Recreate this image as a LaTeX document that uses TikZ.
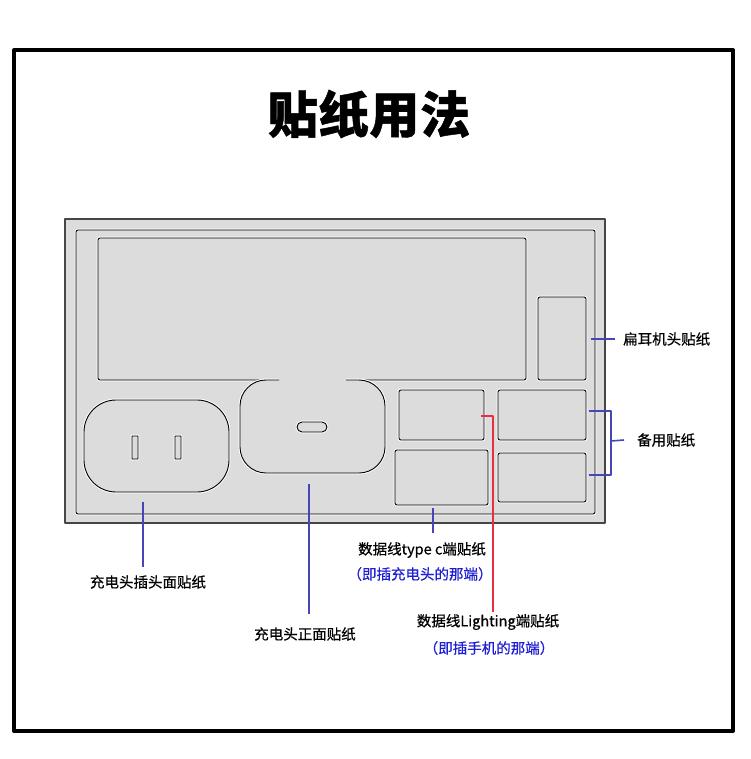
\documentclass[tikz,border=0pt]{standalone}
\usepackage{fontspec}
\setmainfont{Noto Sans CJK SC}
\newfontfamily\titlefont{Noto Sans CJK SC}[BoldFeatures={FakeBold=0.9}, LetterSpace=1.5]
\newfontfamily\tagfont{Noto Sans CJK SC}[FakeBold=0.6]
\usepackage{tikz}
\usetikzlibrary{positioning}
\colorlet{framecol}{black}
\definecolor{sheetcol}{RGB}{220,220,220}
\definecolor{edgecol}{RGB}{70,70,70}
\definecolor{leadcol}{RGB}{70,70,185}
\definecolor{notecol}{RGB}{30,30,210}
\definecolor{redcol}{RGB}{235,45,65}
\tikzset{
  sheet/.style={fill=sheetcol, draw=edgecol, line width=1.2pt},
  cut/.style={preaction={draw=white, line width=2.8pt}, fill=sheetcol,
    draw=black, line width=0.9pt, rounded corners=2pt},
  lead/.style={draw=leadcol, line width=1.6pt},
  tagtext/.style={inner sep=0pt, font=\tagfont\fontsize{14.5}{16}\selectfont},
  notetext/.style={tagtext, text=notecol},
}

\begin{document}
\begin{tikzpicture}[x=1pt, y=-1pt, line join=round]
  \useasboundingbox (0,0) rectangle (750,759);

  % Outer frame.
  \draw[line width=4pt, framecol] (14,50) rectangle (733,731);

  % Title.
  \node[font=\titlefont\fontsize{50}{54}\selectfont\bfseries] (title) at (369,114) {贴纸用法};

  % Sticker sheet.
  \draw[sheet] (65,219) rectangle (605,523);
  \draw[cut] (76,230) rectangle (595,514);

  % Large area, open at the bottom where the front sticker joins it.
  \draw[cut] (279,380) -- (98,380) -- (98,238) -- (526,238) -- (526,380) -- (346,380);

  % Charger front sticker with its type c slot.
  \draw[cut, rounded corners=26pt] (279,380) -| (240,473) -| (385,380) -- (346,380);
  \draw[cut, rounded corners=5pt] (297,422) rectangle (327,432);

  % Charger plug face with its two pins.
  \draw[cut, rounded corners=32pt] (84,400) rectangle (229,492);
  \draw[cut, rounded corners=0.5pt] (132,436) rectangle (138,459);
  \draw[cut, rounded corners=0.5pt] (175,436) rectangle (181,459);

  % Small stickers on the right.
  \draw[cut] (538,297) rectangle (586,380);
  \draw[cut] (399,390) rectangle (484,440);
  \draw[cut] (498,390) rectangle (586,440);
  \draw[cut] (395,450) rectangle (488,505);
  \draw[cut] (498,453) rectangle (586,502);

  % Labels.
  \node[tagtext] (pluglabel) at (148,582) {充电头插头面贴纸};
  \node[tagtext] (frontlabel) at (305,634) {充电头正面贴纸};
  \node[tagtext] (typeclabel) at (422,550) {数据线type c端贴纸};
  \node[notetext] (typecnote) at (420,574) {（即插充电头的那端）};
  \node[tagtext] (lightlabel) at (488,622) {数据线Lighting端贴纸};
  \node[notetext] (lightnote) at (489,648) {（即插手机的那端）};
  \node[tagtext, anchor=west] (flatlabel) at (623,339) {扁耳机头贴纸};
  \node[tagtext, anchor=west] (sparelabel) at (637,440) {备用贴纸};

  % Leader lines.
  \coordinate (plugfoot) at (143,502);
  \coordinate (frontfoot) at (309,484);
  \coordinate (typecfoot) at (433,508);
  \coordinate (lightfoot) at (481,416);
  \coordinate (lightturn) at (493,416);
  \coordinate (flatfoot) at (591,339);
  \coordinate (sparetop) at (589,411);
  \coordinate (sparebot) at (589,475);

  \draw[lead] (plugfoot) -- (plugfoot |- 0,567);
  \draw[lead] (frontfoot) -- (frontfoot |- 0,614);
  \draw[lead] (typecfoot) -- (typecfoot |- 0,533);
  \draw[redcol, line width=1.6pt] (lightfoot) -- (lightturn) -- (lightturn |- 0,612);
  \draw[lead] (flatfoot) -- ([xshift=-8pt]flatlabel.west);
  \draw[lead] (sparetop) -- ++(22,0) |- (sparebot);
  \draw[lead] (sparetop) ++(22,30) -- ([xshift=-13pt]sparelabel.west);

\end{tikzpicture}
\end{document}
